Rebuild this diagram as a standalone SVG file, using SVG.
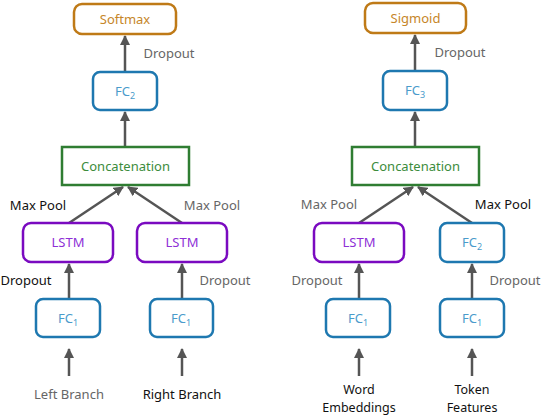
<svg xmlns="http://www.w3.org/2000/svg" width="542" height="416" viewBox="0 0 542 416">
<defs>
<marker id="ah" viewBox="0 0 10 10" refX="9" refY="5" markerWidth="4" markerHeight="4" markerUnits="strokeWidth" orient="auto">
<path d="M0,0 L10,5 L0,10 z" fill="#555"/>
</marker>
<style>
text{font-family:"Noto Sans","Open Sans",sans-serif;font-size:13px;text-anchor:middle}
.o rect{fill:#fff;stroke:#BF7A17;stroke-width:2.5}
.o text{fill:#C68629}
.b rect{fill:#fff;stroke:#1E78B0;stroke-width:2.5}
.b text{fill:#4A9BCB}
.g rect{fill:#fff;stroke:#2F7D32;stroke-width:2.5}
.g text{fill:#3C8C3C}
.p rect{fill:#fff;stroke:#7A0AC0;stroke-width:2.5}
.p text{fill:#8E30D6}
.lg{fill:#666}
.lk{fill:#111}
.two{font-size:12.5px}
#edges line{stroke:#555;stroke-width:2.5;marker-end:url(#ah)}
</style>
</defs>
<g id="edges">
<line x1="125" y1="72" x2="125" y2="36"/>
<line x1="125" y1="147" x2="125" y2="112"/>
<line x1="69" y1="223" x2="123" y2="187"/>
<line x1="182" y1="223" x2="128" y2="187"/>
<line x1="69" y1="299" x2="69" y2="264"/>
<line x1="182" y1="299" x2="182" y2="264"/>
<line x1="69" y1="376" x2="69" y2="349"/>
<line x1="182" y1="376" x2="182" y2="349"/>
<line x1="415" y1="71" x2="415" y2="35"/>
<line x1="415" y1="147" x2="415" y2="112"/>
<line x1="359" y1="223" x2="413" y2="187"/>
<line x1="472" y1="223" x2="418" y2="187"/>
<line x1="359" y1="299" x2="359" y2="264"/>
<line x1="472" y1="299" x2="472" y2="264"/>
<line x1="359" y1="376" x2="359" y2="349"/>
<line x1="472" y1="376" x2="472" y2="349"/>
</g>
<g id="edge-labels">
<text x="169" y="58" class="lg">Dropout</text>
<text x="38" y="210" class="lk">Max Pool</text>
<text x="212" y="210" class="lg">Max Pool</text>
<text x="26" y="285" class="lk">Dropout</text>
<text x="225" y="285" class="lg">Dropout</text>
<text x="460" y="57" class="lg">Dropout</text>
<text x="329" y="209" class="lg">Max Pool</text>
<text x="503" y="209" class="lk">Max Pool</text>
<text x="317" y="285" class="lg">Dropout</text>
<text x="515" y="285" class="lg">Dropout</text>
</g>
<g id="softmax" class="o"><rect x="74" y="4" width="102" height="30" rx="8"/><text x="125" y="24">Softmax</text></g>
<g id="fc2-left" class="b"><rect x="93" y="72" width="64" height="38" rx="7"/><text x="125" y="96">FC<tspan font-size="9" dy="3">2</tspan></text></g>
<g id="concat-left" class="g"><rect x="62" y="147" width="127" height="38"/><text x="125.5" y="171">Concatenation</text></g>
<g id="lstm-left" class="p"><rect x="23" y="223" width="90" height="39" rx="8"/><text x="68" y="247">LSTM</text></g>
<g id="lstm-right" class="p"><rect x="137" y="223" width="90" height="39" rx="8"/><text x="182" y="247">LSTM</text></g>
<g id="fc1-left" class="b"><rect x="36" y="299" width="64" height="38" rx="7"/><text x="68" y="323">FC<tspan font-size="9" dy="3">1</tspan></text></g>
<g id="fc1-right" class="b"><rect x="150" y="299" width="63" height="38" rx="7"/><text x="181" y="323">FC<tspan font-size="9" dy="3">1</tspan></text></g>
<g id="in-left"><text x="69" y="399" class="lg">Left Branch</text></g>
<g id="in-right"><text x="182" y="399" class="lk">Right Branch</text></g>
<g id="sigmoid" class="o"><rect x="365" y="3" width="101" height="30" rx="8"/><text x="415.5" y="23">Sigmoid</text></g>
<g id="fc3" class="b"><rect x="383" y="71" width="64" height="39" rx="7"/><text x="415" y="95">FC<tspan font-size="9" dy="3">3</tspan></text></g>
<g id="concat-right" class="g"><rect x="352" y="147" width="127" height="38"/><text x="415.5" y="171">Concatenation</text></g>
<g id="lstm-word" class="p"><rect x="314" y="223" width="90" height="39" rx="8"/><text x="359" y="247">LSTM</text></g>
<g id="fc2-token" class="b"><rect x="440" y="223" width="64" height="39" rx="7"/><text x="472" y="247">FC<tspan font-size="9" dy="3">2</tspan></text></g>
<g id="fc1-word" class="b"><rect x="326" y="299" width="64" height="38" rx="7"/><text x="358" y="323">FC<tspan font-size="9" dy="3">1</tspan></text></g>
<g id="fc1-token" class="b"><rect x="440" y="299" width="64" height="38" rx="7"/><text x="472" y="323">FC<tspan font-size="9" dy="3">1</tspan></text></g>
<g id="in-word"><text x="359" y="394" class="lk two">Word</text><text x="359" y="412" class="lk two">Embeddings</text></g>
<g id="in-token"><text x="472" y="394" class="lk two">Token</text><text x="472" y="412" class="lk two">Features</text></g>
</svg>
